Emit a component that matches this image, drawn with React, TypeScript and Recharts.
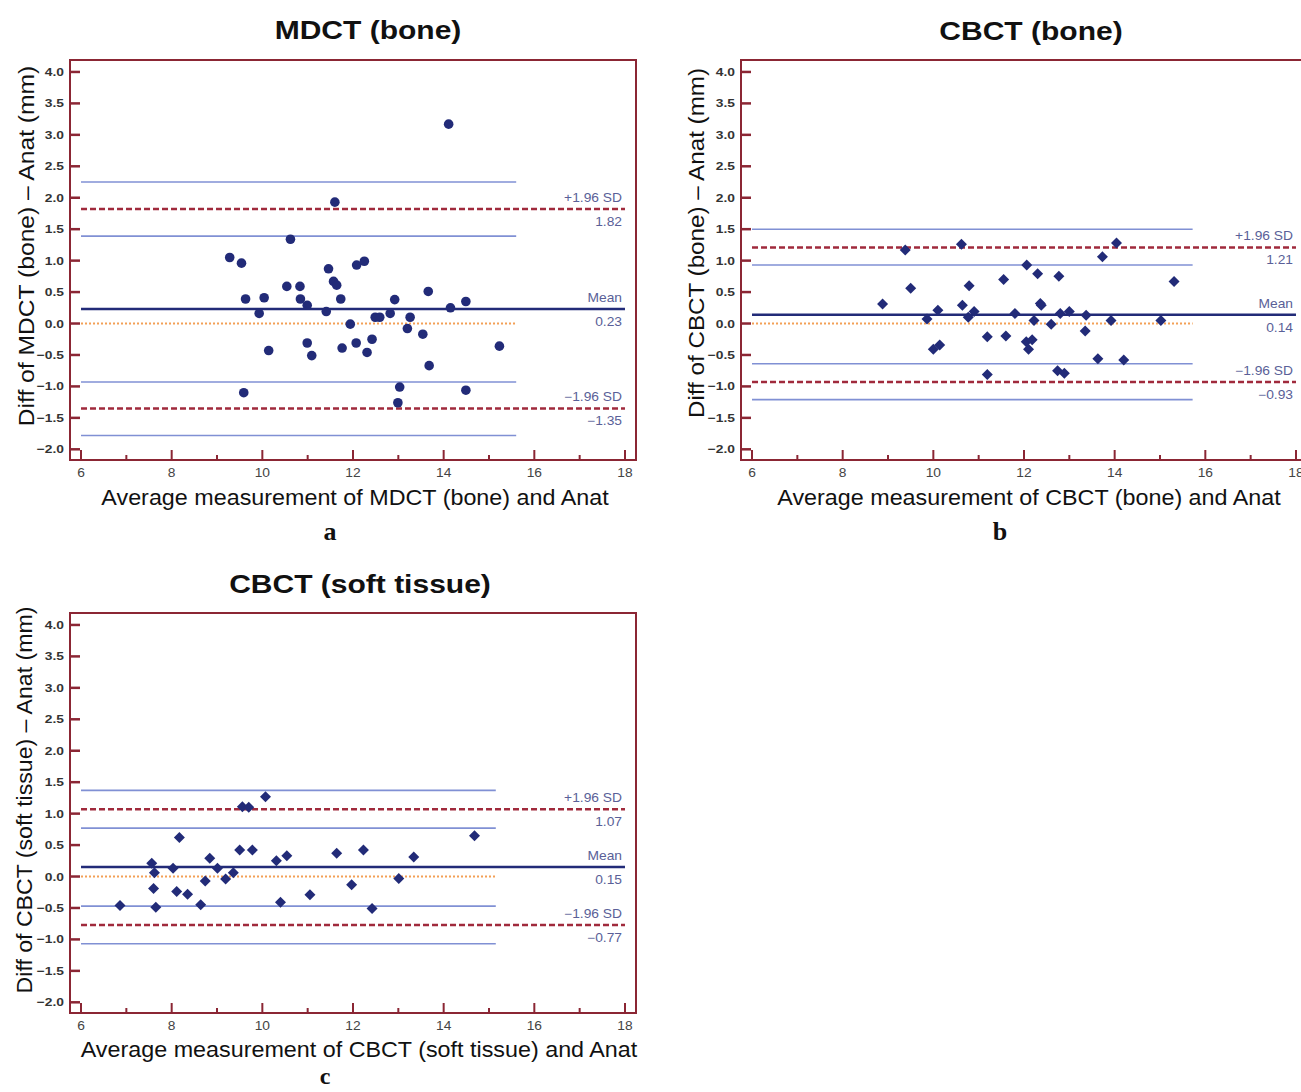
import React from "react"
import { ScatterChart, Scatter, XAxis, YAxis, ReferenceLine, ReferenceArea } from "recharts"

// panel a: MDCT (bone)
const aX = [14.11, 11.6, 10.62, 9.28, 9.54, 12.08, 12.25, 11.46, 11.57, 11.64, 10.54, 10.83, 9.63, 10.04, 10.84, 10.99, 11.73, 9.93, 11.41, 12.92, 13.66, 14.15, 14.49, 12.82, 12.49, 12.59, 13.26, 11.94, 13.2, 13.54, 10.99, 12.07, 12.42, 10.14, 11.09, 11.76, 12.31, 15.23, 13.68, 9.59, 13.03, 14.49, 12.99]
const aY = [3.17, 1.93, 1.34, 1.05, 0.96, 0.93, 0.99, 0.87, 0.67, 0.61, 0.59, 0.59, 0.39, 0.41, 0.39, 0.29, 0.39, 0.16, 0.19, 0.38, 0.51, 0.25, 0.35, 0.16, 0.1, 0.1, 0.1, -0.01, -0.08, -0.17, -0.31, -0.31, -0.25, -0.43, -0.51, -0.39, -0.46, -0.36, -0.67, -1.1, -1.01, -1.06, -1.26]
const aStats = { mean: 0.23, upper: 1.82, lower: -1.35 }
const aCI = [2.25, 1.39, -0.93, -1.78]
const aSpan = 15.6

// panel b: CBCT (bone)
const bX = [10.62, 14.04, 9.38, 13.73, 12.06, 12.3, 12.77, 11.55, 15.31, 9.5, 10.79, 8.88, 10.64, 12.36, 12.38, 10.1, 10.9, 11.8, 12.8, 13.0, 13.37, 9.86, 10.77, 12.22, 13.92, 15.02, 12.6, 13.35, 11.19, 11.6, 12.05, 12.18, 12.1, 10.0, 10.14, 13.63, 14.2, 11.19, 12.74, 12.89]
const bY = [1.26, 1.28, 1.17, 1.06, 0.93, 0.79, 0.75, 0.7, 0.67, 0.56, 0.6, 0.31, 0.29, 0.32, 0.29, 0.21, 0.19, 0.16, 0.16, 0.19, 0.13, 0.07, 0.1, 0.05, 0.05, 0.05, -0.01, -0.12, -0.21, -0.2, -0.29, -0.26, -0.41, -0.41, -0.34, -0.56, -0.58, -0.81, -0.75, -0.79]
const bStats = { mean: 0.14, upper: 1.21, lower: -0.93 }
const bCI = [1.5, 0.93, -0.64, -1.21]
const bSpan = 15.72

// panel c: CBCT (soft tissue)
const cX = [10.07, 9.56, 9.7, 14.68, 8.17, 9.5, 9.78, 12.23, 11.64, 10.54, 10.31, 13.34, 8.84, 7.56, 7.62, 8.03, 9.01, 9.36, 9.19, 8.74, 13.01, 7.6, 8.11, 8.35, 11.97, 11.05, 6.86, 8.64, 7.65, 10.4, 12.42]
const cY = [1.27, 1.11, 1.1, 0.65, 0.62, 0.42, 0.42, 0.42, 0.37, 0.33, 0.25, 0.31, 0.29, 0.21, 0.06, 0.13, 0.13, 0.06, -0.04, -0.07, -0.03, -0.19, -0.24, -0.28, -0.13, -0.29, -0.46, -0.45, -0.49, -0.41, -0.51]
const cStats = { mean: 0.15, upper: 1.07, lower: -0.77 }
const cCI = [1.37, 0.77, -0.47, -1.07]
const cSpan = 15.15

const X_TICKS = [6, 7, 8, 9, 10, 11, 12, 13, 14, 15, 16, 17, 18]
const Y_TICKS = [-2, -1.5, -1, -0.5, 0, 0.5, 1, 1.5, 2, 2.5, 3, 3.5, 4]
const X_DOMAIN = [5.757, 18.243]
const Y_DOMAIN = [-2.17, 4.19]

const FRAME = "#8b2634"
const NAVY = "#222b78"
const LIGHT = "#8090d4"
const RED = "#a02a3c"
const ORANGE = "#f3a056"
const LABEL = "#5a5f98"
const SANS = "'Liberation Sans', Arial, Helvetica, sans-serif"

const fmt = (v: number, d: number) => (v < 0 ? "\u2212" + Math.abs(v).toFixed(d) : v.toFixed(d))

function XTick(props: any) {
  const { x, y, payload } = props
  const major = payload.value % 2 === 0
  return (
    <g>
      <line x1={x} x2={x} y1={y} y2={y - (major ? 10 : 5)} stroke={FRAME} strokeWidth={2} />
      {major && (
        <text transform={`translate(${x},${y + 17}) scale(1.15,1)`} textAnchor="middle" fontSize={12} fill="#444" fontFamily={SANS}>
          {payload.value}
        </text>
      )}
    </g>
  )
}

function YTick(props: any) {
  const { x, y, payload } = props
  return (
    <g>
      <line x1={x} x2={x + 10} y1={y} y2={y} stroke={FRAME} strokeWidth={2.5} />
      <text transform={`translate(${x - 6},${y + 4}) scale(1.2,1)`} textAnchor="end" fontSize={11.5} fontWeight="bold" fill="#333" fontFamily={SANS}>
        {fmt(payload.value, 1)}
      </text>
    </g>
  )
}

function SdLabel(props: any) {
  const { viewBox, top, bottom } = props
  if (!viewBox) return null
  const right = viewBox.x + viewBox.width - 3
  const y = viewBox.y
  return (
    <g fontFamily={SANS} fontSize={12} fill={LABEL}>
      <text transform={`translate(${right},${y - 7}) scale(1.15,1)`} textAnchor="end">{top}</text>
      <text transform={`translate(${right},${y + 17}) scale(1.15,1)`} textAnchor="end">{bottom}</text>
    </g>
  )
}

function Circle(props: any) {
  return <circle cx={props.cx} cy={props.cy} r={4.8} fill={NAVY} />
}

function Diamond(props: any) {
  const { cx, cy } = props
  const h = 5.5
  return <path d={`M${cx},${cy - h}L${cx + h},${cy}L${cx},${cy + h}L${cx - h},${cy}Z`} fill={NAVY} />
}

type PanelProps = {
  left: number
  top: number
  xs: number[]
  ys: number[]
  stats: { mean: number; upper: number; lower: number }
  ci: number[]
  span: number
  diamond?: boolean
}

function Panel({ left, top, xs, ys, stats, ci, span, diamond }: PanelProps) {
  const data = xs.map((x, i) => ({ x, y: ys[i] }))
  return (
    <div style={{ position: "absolute", left, top }}>
      <ScatterChart width={660} height={490} margin={{ top: 60, right: 24, bottom: 0, left: 0 }}>
        <XAxis type="number" dataKey="x" domain={X_DOMAIN} ticks={X_TICKS} interval={0} allowDataOverflow
          axisLine={false} tickLine={false} tickSize={0} tickMargin={0} height={30} tick={<XTick />} />
        <YAxis type="number" dataKey="y" domain={Y_DOMAIN} ticks={Y_TICKS} interval={0} allowDataOverflow
          axisLine={false} tickLine={false} tickSize={0} tickMargin={0} width={70} tick={<YTick />} />
        <ReferenceArea x1={X_DOMAIN[0]} x2={X_DOMAIN[1]} y1={Y_DOMAIN[0]} y2={Y_DOMAIN[1]}
          fill="none" fillOpacity={0} stroke={FRAME} strokeWidth={2} strokeOpacity={1} />
        <ReferenceLine segment={[{ x: 6, y: 0 }, { x: span, y: 0 }]} stroke={ORANGE} strokeWidth={2} strokeDasharray="2 2" />
        {ci.map((v) => (
          <ReferenceLine key={v} segment={[{ x: 6, y: v }, { x: span, y: v }]} stroke={LIGHT} strokeWidth={1.6} />
        ))}
        <ReferenceLine segment={[{ x: 6, y: stats.upper }, { x: 18, y: stats.upper }]} stroke={RED} strokeWidth={2.5}
          strokeDasharray="6 3" label={<SdLabel top="+1.96 SD" bottom={fmt(stats.upper, 2)} />} />
        <ReferenceLine segment={[{ x: 6, y: stats.mean }, { x: 18, y: stats.mean }]} stroke={NAVY} strokeWidth={2.5}
          label={<SdLabel top="Mean" bottom={fmt(stats.mean, 2)} />} />
        <ReferenceLine segment={[{ x: 6, y: stats.lower }, { x: 18, y: stats.lower }]} stroke={RED} strokeWidth={2.5}
          strokeDasharray="6 3" label={<SdLabel top={"\u22121.96 SD"} bottom={fmt(stats.lower, 2)} />} />
        <Scatter data={data} shape={diamond ? <Diamond /> : <Circle />} isAnimationActive={false} />
      </ScatterChart>
    </div>
  )
}

function Caption({ x, y, text, size, bold, serif, rotate, sx = 1 }: any) {
  return (
    <div
      style={{
        position: "absolute",
        left: x,
        top: y,
        transform: `translate(-50%,-50%)${rotate ? " rotate(-90deg)" : ""} scaleX(${sx})`,
        fontFamily: serif ? "'Liberation Serif', 'Times New Roman', serif" : SANS,
        fontSize: size,
        fontWeight: bold ? "bold" : "normal",
        whiteSpace: "nowrap",
        lineHeight: 1,
        color: "#111",
      }}
    >
      {text}
    </div>
  )
}

export default function App() {
  return (
    <div style={{ position: "absolute", left: 0, top: 0, width: 1301, height: 1092, overflow: "hidden", background: "#fff" }}>
      <Panel left={0} top={0} xs={aX} ys={aY} stats={aStats} ci={aCI} span={aSpan} />
      <Panel left={671} top={0} xs={bX} ys={bY} stats={bStats} ci={bCI} span={bSpan} diamond />
      <Panel left={0} top={553} xs={cX} ys={cY} stats={cStats} ci={cCI} span={cSpan} diamond />

      <Caption x={368} y={30} text="MDCT (bone)" size={25} bold sx={1.2} />
      <Caption x={1031} y={31} text="CBCT (bone)" size={25} bold sx={1.2} />
      <Caption x={360} y={584} text="CBCT (soft tissue)" size={25} bold sx={1.2} />

      <Caption x={355} y={498} text="Average measurement of MDCT (bone) and Anat" size={22} sx={1.06} />
      <Caption x={1029} y={498} text="Average measurement of CBCT (bone) and Anat" size={22} sx={1.06} />
      <Caption x={359} y={1050} text="Average measurement of CBCT (soft tissue) and Anat" size={22} sx={1.06} />

      <Caption x={27} y={246} text={"Diff of MDCT (bone) \u2013 Anat (mm)"} size={22} rotate sx={1.12} />
      <Caption x={697} y={243} text={"Diff of CBCT (bone) \u2013 Anat (mm)"} size={22} rotate sx={1.1} />
      <Caption x={25} y={800} text={"Diff of CBCT (soft tissue) \u2013 Anat (mm)"} size={22} rotate sx={1.05} />

      <Caption x={330} y={532} text="a" size={26} bold serif />
      <Caption x={1000} y={532} text="b" size={26} bold serif />
      <Caption x={325} y={1076} text="c" size={24} bold serif />
    </div>
  )
}
